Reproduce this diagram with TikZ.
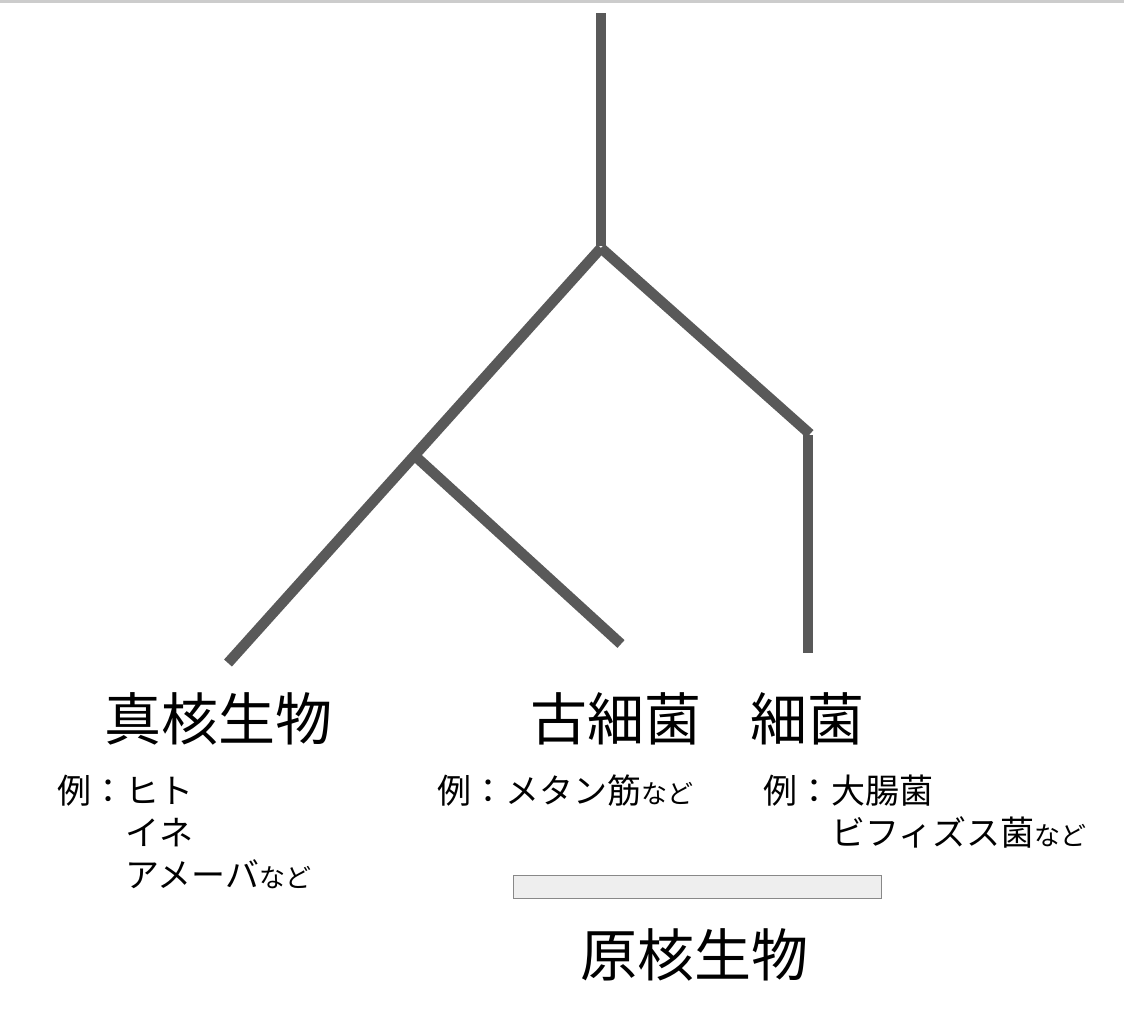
\documentclass[tikz,border=0pt]{standalone}
\usepackage{fontspec}
\setmainfont{Noto Sans CJK JP}
\usetikzlibrary{positioning}
\definecolor{branchgray}{HTML}{595959}
\definecolor{barfill}{HTML}{EEEEEE}
\definecolor{bardraw}{HTML}{888888}
\definecolor{topline}{HTML}{CCCCCC}
\newcommand{\nado}{{\fontsize{26}{26}\selectfont など}}

\begin{document}
\begin{tikzpicture}[x=1pt,y=-1pt]

\tikzstyle{branch} = [line width=10.5pt, draw=branchgray]
\tikzset{title/.style = {inner sep=0pt, anchor=base, font=\fontsize{57}{60}\selectfont}, }
\tikzset{example/.style = {inner sep=0pt, anchor=base west, font=\fontsize{34}{40}\selectfont}, }
\tikzset{bar/.style={rectangle, draw=bardraw, fill=barfill, line width=1pt, inner sep=0pt} }

\useasboundingbox (0,0) rectangle (1124,1018);
\fill[topline] (0,0) rectangle (1124,2.5);

% tree
\coordinate (root) at (601,13);
\coordinate (fork) at (601,246);
\coordinate (split) at (601,248);
\coordinate (euk) at (228,663);
\coordinate (midfork) at (414,455);
\coordinate (arch) at (621,644);
\coordinate (bend) at (810,434);
\coordinate (bendtop) at (808,435);
\coordinate (bact) at (808,653);

\path[branch]
(root) edge (fork)
(split) edge (euk)
(midfork) edge (arch)
(split) edge (bend)
(bendtop) edge (bact);

% group names
\node[title] (Teuk) at (218,740) {真核生物};
\node[title] (Tarch) at (616,740) {古細菌};
\node[title] (Tbact) at (807,740) {細菌};

% examples
\node[example] (Eeuk1) at (57,803) {例：ヒト};
\node[example] (Eeuk2) at (57,845) {\phantom{例：}イネ};
\node[example] (Eeuk3) at (57,887) {\phantom{例：}アメーバ\nado};
\node[example] (Earch) at (437,803) {例：メタン筋\nado};
\node[example] (Ebact1) at (763,803) {例：大腸菌};
\node[example] (Ebact2) at (763,845) {\phantom{例：}ビフィズス菌\nado};

% prokaryotes
\node[bar, minimum width=368pt, minimum height=23pt] (Pbar) at (697,886.5) {};
\node[title] (Tprok) at (694,976) {原核生物};
\end{tikzpicture}
\end{document}
